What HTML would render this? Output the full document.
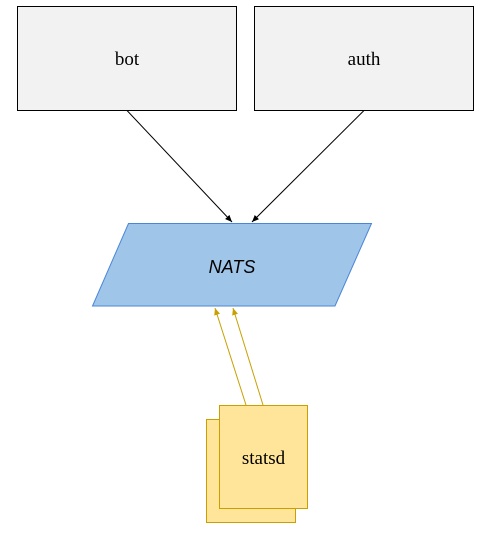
<!DOCTYPE html>
<html><head><meta charset="utf-8"><style>
html,body{margin:0;padding:0;background:#fff;width:485px;height:534px;overflow:hidden}
</style></head><body>
<svg width="485" height="534" viewBox="0 0 485 534" xmlns="http://www.w3.org/2000/svg">
<defs>
<marker id="ab" markerWidth="8" markerHeight="8" refX="7" refY="4" orient="auto" markerUnits="userSpaceOnUse"><path d="M0,1 L7,4 L0,7 Z" fill="#000"/></marker>
<marker id="ay" markerWidth="8" markerHeight="8" refX="7" refY="4" orient="auto" markerUnits="userSpaceOnUse"><path d="M0,1 L7,4 L0,7 Z" fill="#c9a000"/></marker>
</defs>
<rect x="17.5" y="6.5" width="219" height="104" fill="#f2f2f2" stroke="#000" stroke-width="1"/>
<rect x="254.5" y="6.5" width="219" height="104" fill="#f2f2f2" stroke="#000" stroke-width="1"/>
<text x="127" y="65" font-family="Liberation Serif, serif" font-size="19" text-anchor="middle" fill="#000">bot</text>
<text x="364" y="65" font-family="Liberation Serif, serif" font-size="19" text-anchor="middle" fill="#000">auth</text>
<line x1="127" y1="110.5" x2="232" y2="222" stroke="#000" stroke-width="1" marker-end="url(#ab)"/>
<line x1="364" y1="110.5" x2="252" y2="222" stroke="#000" stroke-width="1" marker-end="url(#ab)"/>
<polygon points="128.5,223.5 371.5,223.5 335,306 92.5,306" fill="#9fc5e8" stroke="#4a86d8" stroke-width="1"/>
<text x="232" y="273" font-family="Liberation Sans, sans-serif" font-style="italic" font-size="18" text-anchor="middle" fill="#000">NATS</text>
<line x1="246" y1="405" x2="215" y2="308" stroke="#c9a000" stroke-width="1" marker-end="url(#ay)"/>
<line x1="263" y1="405" x2="233" y2="308" stroke="#c9a000" stroke-width="1" marker-end="url(#ay)"/>
<rect x="206.5" y="419.5" width="89" height="103" fill="#ffe599" stroke="#c9a000" stroke-width="1"/>
<rect x="219.5" y="405.5" width="88" height="103" fill="#ffe599" stroke="#c9a000" stroke-width="1"/>
<text x="263.5" y="464" font-family="Liberation Serif, serif" font-size="19" text-anchor="middle" fill="#000">statsd</text>
</svg>
</body></html>
